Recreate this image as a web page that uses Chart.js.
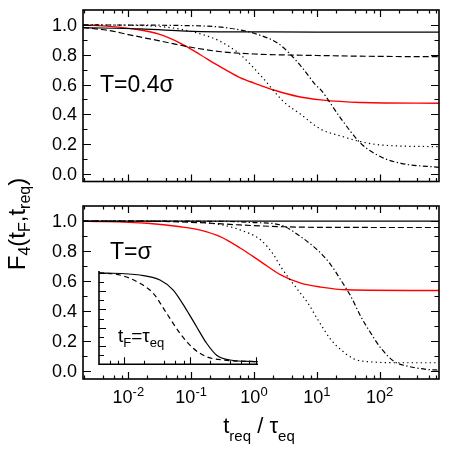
<!DOCTYPE html>
<html>
<head>
<meta charset="utf-8">
<script src="https://cdn.jsdelivr.net/npm/chart.js@4.4.0/dist/chart.umd.min.js"></script>
<style>
    html, body { margin: 0; padding: 0; background: #fff; }
    #wrap { position: relative; width: 449px; height: 454px; }
    #wrap canvas { position: absolute; left: 0; top: 0; }
</style>
</head>
<body>
<div id="wrap">
    <canvas id="topChart" width="449" height="454"></canvas>
    <canvas id="bottomChart" width="449" height="454"></canvas>
    <canvas id="insetChart" width="449" height="454"></canvas>
</div>
<script>
// ---- data ----
const xMin = 0.0019, xMax = 880;
const yTickValues = [0, 0.2, 0.4, 0.6, 0.8, 1.0];
const yTickLabels = ['0.0', '0.2', '0.4', '0.6', '0.8', '1.0'];
const xTickExponents = [-2, -1, 0, 1, 2];

// top panel, T = 0.4 sigma
const topSolidX = [0.0019, 0.0156, 0.14, 1, 10, 880];
const topSolidY = [0.982, 0.973, 0.955, 0.953, 0.952, 0.952];
const topDashX = [0.0019, 0.005, 0.01, 0.03, 0.1, 0.3, 1, 10, 100, 880];
const topDashY = [0.982, 0.962, 0.935, 0.895, 0.85, 0.82, 0.805, 0.795, 0.789, 0.787];
const topRedX = [0.0019, 0.005, 0.0156, 0.03, 0.068, 0.14, 0.25, 0.35, 0.61, 1, 2.2, 5, 11.6, 50, 880];
const topRedY = [1.0, 0.99, 0.966, 0.94, 0.877, 0.80, 0.735, 0.70, 0.645, 0.61, 0.56, 0.52, 0.497, 0.48, 0.475];
const topDotX = [0.0019, 0.01, 0.03, 0.07, 0.14, 0.29, 0.61, 1.28, 2.97, 5.55, 11.6, 24, 50, 104, 880];
const topDotY = [1.0, 0.998, 0.99, 0.97, 0.94, 0.89, 0.80, 0.66, 0.485, 0.40, 0.30, 0.255, 0.217, 0.195, 0.183];
const topDashDotX = [0.0019, 0.1, 0.3, 0.6, 1, 2.4, 3.85, 6.2, 9.6, 11.6, 24, 50, 104, 218, 880];
const topDashDotY = [1.0, 0.995, 0.985, 0.966, 0.944, 0.877, 0.80, 0.70, 0.597, 0.564, 0.374, 0.206, 0.116, 0.072, 0.045];

// bottom panel, T = sigma
const botSolidX = [0.0019, 880];
const botSolidY = [1.0, 1.0];
const botDashX = [0.0019, 0.03, 0.14, 0.6, 3, 11.6, 880];
const botDashY = [1.0, 0.998, 0.989, 0.974, 0.962, 0.958, 0.957];
const botRedX = [0.0019, 0.02, 0.068, 0.14, 0.29, 0.61, 1.28, 2.66, 5.55, 11.6, 30, 880];
const botRedY = [1.0, 0.985, 0.962, 0.94, 0.896, 0.819, 0.73, 0.642, 0.587, 0.561, 0.543, 0.538];
const botDotX = [0.0019, 0.1, 0.3, 0.61, 1.28, 2.06, 2.66, 4.97, 7.2, 10.4, 16.7, 24, 38.8, 72, 243, 880];
const botDotY = [1.0, 0.995, 0.975, 0.94, 0.874, 0.775, 0.697, 0.543, 0.455, 0.344, 0.212, 0.146, 0.084, 0.064, 0.058, 0.058];
const botDashDotX = [0.0019, 0.3, 1, 2.66, 5.55, 8.9, 11.6, 16.7, 24, 34.8, 50, 72, 104, 168, 282, 587, 880];
const botDashDotY = [1.0, 0.998, 0.99, 0.974, 0.896, 0.83, 0.786, 0.709, 0.609, 0.499, 0.366, 0.256, 0.157, 0.068, 0.035, 0.013, 0.009];

// inset, t_F = tau_eq
const insetXMin = 0.0415, insetXMax = 10.8;
const insetSolidX = [0.0415, 0.174, 0.35, 0.557, 0.89, 1.26, 1.79, 2.54, 4.05, 10.8];
const insetSolidY = [1.0, 0.976, 0.921, 0.812, 0.593, 0.411, 0.23, 0.10, 0.047, 0.028];
const insetDashX = [0.0415, 0.0865, 0.174, 0.277, 0.443, 0.705, 1.12, 1.79, 3.2, 10.8];
const insetDashY = [1.0, 0.976, 0.885, 0.776, 0.557, 0.339, 0.175, 0.083, 0.047, 0.028];

const FONT = '"Liberation Sans", Arial, sans-serif';
const minorFactors = [2, 4, 6, 8];

function pts(xs, ys) {
    return xs.map((x, i) => ({ x: x, y: ys[i] }));
}

function line(xs, ys, color, dash, width) {
    return {
        data: pts(xs, ys),
        borderColor: color,
        borderWidth: width || 1.2,
        borderDash: dash || [],
        pointRadius: 0,
        fill: false,
        cubicInterpolationMode: 'monotone'
    };
}

const DASH = [6, 3];
const DOT = [1.3, 3.2];
const DASHDOT = [5, 2.5, 1.3, 2.5];

// inward ticks + frame for the main panels
function panelFrame(withXLabels) {
    return {
        id: 'panelFrame',
        afterDraw(chart) {
            const { ctx, chartArea: a, scales: { x, y } } = chart;
            ctx.save();
            ctx.strokeStyle = '#000';
            ctx.lineWidth = 1.2;
            ctx.beginPath();
            for (let v = 0; v <= 1.0001; v += 0.1) {
                const p = Math.round(y.getPixelForValue(v)) + 0.5;
                const major = Math.round(v * 10) % 2 === 0;
                const len = major ? 8 : 4.5;
                ctx.moveTo(a.left, p); ctx.lineTo(a.left + len, p);
                ctx.moveTo(a.right, p); ctx.lineTo(a.right - len, p);
            }
            for (let e = -3; e <= 2; e++) {
                const dec = Math.pow(10, e);
                const list = [{ v: dec, len: 7 }].concat(minorFactors.map(f => ({ v: dec * f, len: 3.5 })));
                list.forEach(t => {
                    if (t.v < xMin || t.v > xMax) return;
                    const p = Math.round(x.getPixelForValue(t.v)) + 0.5;
                    ctx.moveTo(p, a.top); ctx.lineTo(p, a.top + t.len);
                    ctx.moveTo(p, a.bottom); ctx.lineTo(p, a.bottom - t.len);
                });
            }
            ctx.stroke();
            ctx.lineWidth = 1.6;
            ctx.strokeRect(a.left, a.top, a.right - a.left, a.bottom - a.top);

            // y tick labels
            ctx.fillStyle = '#000';
            ctx.font = '18px ' + FONT;
            ctx.textAlign = 'right';
            ctx.textBaseline = 'middle';
            yTickValues.forEach((v, i) => {
                ctx.fillText(yTickLabels[i], a.left - 6, y.getPixelForValue(v) + 1);
            });

            if (withXLabels) {
                ctx.textAlign = 'left';
                ctx.textBaseline = 'alphabetic';
                xTickExponents.forEach(e => {
                    const p = x.getPixelForValue(Math.pow(10, e));
                    ctx.font = '18px ' + FONT;
                    const w1 = ctx.measureText('10').width;
                    ctx.font = '13px ' + FONT;
                    const w2 = ctx.measureText(String(e)).width;
                    const s = p - (w1 + w2) / 2;
                    ctx.font = '18px ' + FONT;
                    ctx.fillText('10', s, 403);
                    ctx.font = '13px ' + FONT;
                    ctx.fillText(String(e), s + w1, 396);
                });
            }
            ctx.restore();
        }
    };
}

// draws runs of [text, size, baselineShift]
function drawRuns(ctx, runs, x, y) {
    let cx = x;
    runs.forEach(r => {
        ctx.font = r[1] + 'px ' + FONT;
        ctx.fillText(r[0], cx, y + r[2]);
        cx += ctx.measureText(r[0]).width;
    });
    return cx - x;
}

function runsWidth(ctx, runs) {
    let w = 0;
    runs.forEach(r => {
        ctx.font = r[1] + 'px ' + FONT;
        w += ctx.measureText(r[0]).width;
    });
    return w;
}

const textPlugin = {
    id: 'texts',
    afterDraw(chart) {
        const ctx = chart.ctx;
        ctx.save();
        ctx.fillStyle = '#000';
        ctx.textAlign = 'left';
        ctx.textBaseline = 'alphabetic';

        // panel labels
        ctx.font = '23px ' + FONT;
        ctx.fillText('T=0.4\u03c3', 100, 92);
        ctx.fillText('T=\u03c3', 110, 259);

        // x axis title
        const xRuns = [['t', 22, 0], ['req', 15, 8], [' / ', 22, 0], ['\u03c4', 22, 0], ['eq', 15, 8]];
        const xw = runsWidth(ctx, xRuns);
        drawRuns(ctx, xRuns, 259 - xw / 2, 433);

        // y axis title (rotated)
        const yRuns = [['F', 24, 0], ['4', 16, 5], ['(t', 24, 0], ['F', 16, 5], [',t', 24, 0], ['req', 16, 5], [')', 24, 0]];
        const yw = runsWidth(ctx, yRuns);
        ctx.translate(25, 224 + yw / 2);
        ctx.rotate(-Math.PI / 2);
        drawRuns(ctx, yRuns, 0, 0);
        ctx.restore();
    }
};

const insetFrame = {
    id: 'insetFrame',
    afterDraw(chart) {
        const { ctx, chartArea: a, scales: { x, y } } = chart;
        ctx.save();
        ctx.strokeStyle = '#000';
        ctx.lineWidth = 1.1;
        ctx.beginPath();
        for (let v = 0.1; v <= 1.0001; v += 0.1) {
            const p = Math.round(y.getPixelForValue(v)) + 0.5;
            const major = Math.round(v * 10) % 2 === 0;
            ctx.moveTo(a.left, p); ctx.lineTo(a.left + (major ? 7 : 5), p);
        }
        for (let e = -2; e <= 1; e++) {
            const dec = Math.pow(10, e);
            const list = [{ v: dec, len: 7 }].concat(minorFactors.map(f => ({ v: dec * f, len: 3.5 })));
            list.forEach(t => {
                if (t.v < insetXMin || t.v > insetXMax) return;
                const p = Math.round(x.getPixelForValue(t.v)) + 0.5;
                ctx.moveTo(p, a.bottom); ctx.lineTo(p, a.bottom - t.len);
            });
        }
        ctx.stroke();
        ctx.lineWidth = 1.6;
        ctx.beginPath();
        ctx.moveTo(a.left, a.top);
        ctx.lineTo(a.left, a.bottom);
        ctx.lineTo(a.right, a.bottom);
        ctx.stroke();

        ctx.fillStyle = '#000';
        ctx.textAlign = 'left';
        ctx.textBaseline = 'alphabetic';
        drawRuns(ctx, [['t', 19, 0], ['F', 13, 5], ['=\u03c4', 19, 0], ['eq', 13, 5]], 118, 342);
        ctx.restore();
    }
};

function baseOptions(padding, xmin, xmax, ymin, ymax) {
    return {
        responsive: false,
        animation: false,
        devicePixelRatio: 1,
        layout: { padding: padding, autoPadding: false },
        plugins: { legend: { display: false }, tooltip: { enabled: false } },
        scales: {
            x: { type: 'logarithmic', min: xmin, max: xmax, display: false },
            y: { type: 'linear', min: ymin, max: ymax, display: false }
        }
    };
}

document.addEventListener('DOMContentLoaded', function () {
    new Chart(document.getElementById('topChart'), {
        type: 'line',
        data: {
            datasets: [
                line(topSolidX, topSolidY, '#000'),
                line(topDashX, topDashY, '#000', DASH),
                line(topDotX, topDotY, '#000', DOT),
                line(topDashDotX, topDashDotY, '#000', DASHDOT),
                line(topRedX, topRedY, '#ff0000', [], 1.4)
            ]
        },
        options: baseOptions({ left: 83, right: 10, top: 10, bottom: 272.5 }, xMin, xMax, -0.05, 1.1),
        plugins: [panelFrame(false)]
    });

    new Chart(document.getElementById('bottomChart'), {
        type: 'line',
        data: {
            datasets: [
                line(botSolidX, botSolidY, '#000'),
                line(botDashX, botDashY, '#000', DASH),
                line(botDotX, botDotY, '#000', DOT),
                line(botDashDotX, botDashDotY, '#000', DASHDOT),
                line(botRedX, botRedY, '#ff0000', [], 1.4)
            ]
        },
        options: baseOptions({ left: 83, right: 10, top: 206, bottom: 75 }, xMin, xMax, -0.05, 1.1),
        plugins: [panelFrame(true), textPlugin]
    });

    new Chart(document.getElementById('insetChart'), {
        type: 'line',
        data: {
            datasets: [
                line(insetSolidX, insetSolidY, '#000'),
                line(insetDashX, insetDashY, '#000', [5, 3.5])
            ]
        },
        options: baseOptions({ left: 99, right: 449 - 258, top: 271, bottom: 454 - 364.3 }, insetXMin, insetXMax, 0, 1.02),
        plugins: [insetFrame]
    });
});
</script>
</body>
</html>
